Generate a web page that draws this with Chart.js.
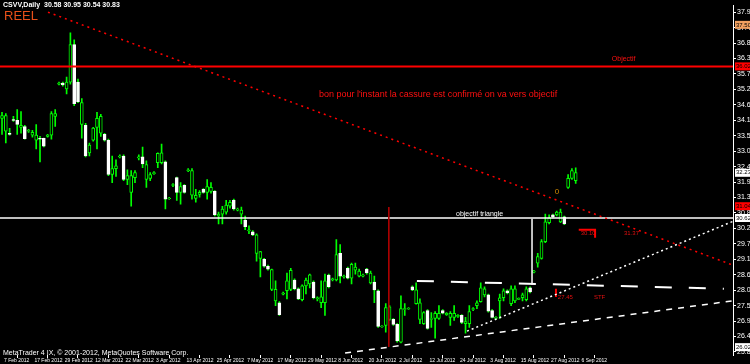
<!DOCTYPE html>
<html>
<head>
<meta charset="utf-8">
<script src="https://cdn.jsdelivr.net/npm/chart.js@4.4.0/dist/chart.umd.min.js"></script>
<style>
  html, body { margin: 0; padding: 0; background: #000; }
  canvas { display: block; }
</style>
</head>
<body>
<canvas id="chart" width="750" height="364"></canvas>
<script>
// daily OHLC, one entry per bar (bar index = position in the array)
const opens = [34.17,33.71,33.64,34.13,34.10,33.85,33.88,33.71,33.57,33.39,33.46,33.46,33.53,33.57,34.24,35.39,35.43,35.22,35.46,36.80,
  35.46,33.95,33.92,32.94,33.39,33.85,33.64,33.60,33.39,32.17,32.38,32.80,32.83,31.99,31.53,32.06,32.76,32.80,31.99,32.03,
  32.20,32.59,32.59,32.62,31.31,31.78,32.06,31.53,31.78,32.31,31.43,31.32,31.46,31.64,31.53,31.57,31.57,30.69,30.76,30.83,
  31.04,31.25,30.90,30.76,30.55,30.17,30.13,29.36,29.18,29.15,28.90,28.08,27.67,27.60,27.91,28.03,28.08,28.41,28.10,27.71,
  28.20,28.27,28.34,27.74,27.60,27.60,28.59,28.41,28.41,29.36,28.52,28.83,28.48,28.76,28.55,28.55,28.80,28.31,28.34,28.03,
  26.75,26.79,27.01,27.01,26.83,26.20,27.36,27.38,28.17,27.57,27.01,26.86,27.32,27.01,27.04,27.04,27.32,27.18,27.08,27.08,
  27.11,27.15,26.86,26.86,27.36,27.50,27.64,27.88,27.88,27.32,27.04,27.67,27.78,28.03,27.57,27.67,27.72,27.78,27.71,28.13,
  28.69,29.01,29.18,29.78,30.45,30.73,30.73,30.48,30.66,31.71,32.03,31.95];
const highs = [34.38,34.34,33.81,34.24,34.48,34.41,33.92,33.78,33.74,33.95,33.53,33.47,33.60,34.41,34.48,35.46,35.46,35.64,37.22,36.97,
  35.57,34.87,33.99,33.29,33.85,34.38,34.31,33.64,33.43,32.83,32.69,32.87,32.87,32.34,32.31,32.31,32.87,33.15,32.66,32.24,
  32.27,32.94,33.25,32.66,31.36,31.85,32.08,31.88,31.81,32.38,32.38,31.64,31.60,31.67,31.99,31.88,31.60,30.83,31.04,31.25,
  31.25,31.29,30.97,31.01,30.69,30.34,30.17,30.06,29.43,29.18,28.94,28.80,28.38,27.64,27.98,28.66,28.83,28.45,28.13,28.24,
  28.48,28.62,28.38,27.81,28.38,28.62,28.62,28.48,29.85,29.67,28.59,28.87,29.01,29.01,28.80,28.62,28.83,28.73,28.55,28.06,
  26.79,27.57,27.50,27.04,26.86,27.85,27.57,27.43,28.20,28.31,27.74,27.29,27.36,27.25,27.29,27.50,27.36,27.25,27.29,27.50,
  27.18,27.18,27.08,27.50,27.43,27.67,28.31,28.17,27.91,27.36,27.11,27.91,28.10,28.06,28.20,28.20,27.78,27.95,28.17,28.17,
  28.76,29.36,29.85,30.76,30.73,30.76,30.87,30.94,30.69,32.17,32.38,32.41];
const lows = [33.60,33.29,33.57,34.06,33.60,33.64,33.43,33.67,33.50,33.08,32.62,33.15,33.50,33.43,33.88,35.36,35.32,35.04,35.39,34.62,
  34.73,33.46,32.80,32.83,33.36,33.08,33.53,33.36,32.13,31.88,32.10,32.76,31.95,31.81,31.04,31.88,32.69,32.41,31.71,31.95,
  32.17,32.41,32.55,30.94,31.28,31.74,31.25,31.11,31.50,32.27,31.29,31.18,31.36,31.50,31.29,31.50,30.69,30.41,30.41,30.76,
  30.97,30.90,30.87,30.41,30.20,30.06,29.99,29.08,28.52,28.87,28.76,28.03,27.50,27.15,27.88,27.74,28.03,28.06,27.71,27.67,
  27.92,28.13,27.74,27.67,27.43,27.15,28.13,28.38,28.38,28.31,28.48,28.45,28.27,28.62,28.52,28.52,28.62,28.27,27.60,26.72,
  26.72,26.55,26.97,26.79,26.20,26.17,27.15,27.36,28.03,27.55,26.86,26.83,26.66,26.72,26.34,27.01,27.20,27.15,26.79,26.97,
  27.08,26.86,26.52,26.72,27.32,27.39,27.62,27.81,27.27,27.06,27.01,27.04,27.67,27.92,27.50,27.60,27.71,27.67,27.67,27.95,
  28.66,28.87,29.15,29.74,30.41,30.62,30.69,30.45,30.38,31.67,31.99,31.85];
const closes = [34.27,34.27,33.60,34.10,33.95,33.92,33.45,33.74,33.67,33.57,33.43,33.18,33.57,34.34,34.34,35.43,35.36,35.46,36.80,34.69,
  34.76,34.73,32.83,33.22,33.82,34.17,34.24,33.39,32.17,32.38,32.48,32.83,31.99,32.13,32.13,32.24,32.80,32.55,32.52,32.17,
  32.24,32.92,32.94,31.29,31.33,31.81,31.53,31.74,31.53,32.34,32.31,31.43,31.53,31.53,31.74,31.71,30.73,30.76,30.94,31.08,
  31.18,30.94,30.94,30.90,30.31,30.20,30.02,30.02,29.42,28.90,28.80,28.78,28.08,27.18,27.95,28.38,28.76,28.10,27.74,28.20,
  28.41,28.60,27.78,27.78,27.81,28.38,28.17,28.45,29.32,28.55,28.55,28.48,28.97,28.87,28.73,28.59,28.66,28.66,28.06,26.76,
  26.77,27.43,27.46,26.83,26.24,27.39,27.39,27.40,28.06,28.06,27.60,27.25,26.69,27.04,27.22,27.22,27.23,27.22,27.22,27.22,
  27.15,26.90,26.93,27.29,27.39,27.60,28.13,28.10,27.30,27.08,27.08,27.78,28.03,27.95,28.10,28.10,27.76,27.88,28.10,27.99,
  28.73,29.25,29.78,30.48,30.62,30.66,30.83,30.83,30.41,32.03,32.31,32.24];

// axis ticks
const priceTicks = [37.95,37.40,36.85,36.30,35.75,35.20,34.65,34.10,33.55,33.00,32.45,31.90,31.35,30.80,30.25,29.70,29.15,28.60,28.05,27.50,26.95,26.40,25.85];
const dateTicks = [0,8,16,24,32,40,48,56,64,72,80,88,96,104,112,120,128,136,144,152];
const dateLabels = ['7 Feb 2012','17 Feb 2012','29 Feb 2012','12 Mar 2012','22 Mar 2012','3 Apr 2012','13 Apr 2012','25 Apr 2012',
  '7 May 2012','17 May 2012','29 May 2012','8 Jun 2012','20 Jun 2012','2 Jul 2012','12 Jul 2012','24 Jul 2012','3 Aug 2012',
  '15 Aug 2012','27 Aug 2012','6 Sep 2012'];

// drawn objects: [bar index, price] pairs
const objectifLevel = 36.02;
const triangleLevel = 30.62;
const resistance = [[12.1, 37.95], [192.4, 28.94]];
const supportUp = [[122.4, 26.59], [192.4, 30.50]];
const supportLow = [[90.3, 25.81], [192.4, 27.67]];
const neckline = [[109.2, 28.38], [190.0, 28.10]];
const breakoutLeg = [[139.5, 30.59], [139.5, 28.24]];
const dayMarker = [[101.8, 31.01], [101.8, 26.03]];
const targetBracket = [[151.8, 30.20], [156.1, 30.20], [156.1, 29.92]];
const stopTick = [[145.8, 28.10], [145.8, 27.81]];

// price boxes on the right scale
const axisBoxes = [[37.50, '#f0a060'], [36.02, '#ff0000'], [32.23, '#ffffff'], [31.04, '#ff0000'], [30.62, '#ffffff'], [26.02, '#ffffff']];

const notes = [
  { text: "bon pour l'instant la cassure est confirmé on va vers objectif", x: 83.4, y: 35.01, color: '#ff1010', size: 9 },
  { text: 'Objectif', x: 160.5, y: 36.27, color: '#ff1010', size: 7 },
  { text: 'objectif triangle', x: 119.5, y: 30.76, color: '#ffffff', size: 7 },
  { text: '0', x: 145.5, y: 31.57, color: '#d08a00', size: 8 },
  { text: '30.10', x: 152.3, y: 30.06, color: '#e01010', size: 6 },
  { text: '31.37', x: 163.7, y: 30.09, color: '#e01010', size: 6 },
  { text: '27.45', x: 146.3, y: 27.78, color: '#e01010', size: 6 },
  { text: 'STF', x: 155.8, y: 27.81, color: '#e01010', size: 6 }
];

const GREEN = '#00ff00';
const pts = arr => arr.map(p => ({ x: p[0], y: p[1] }));
const lineSet = (data, color, width, dash) => ({
  type: 'line', data: pts(data), borderColor: color, borderWidth: width, borderDash: dash || [],
  pointRadius: 0, fill: false, tension: 0, order: 1
});

const bull = opens.map((o, i) => closes[i] >= o);

const overlay = {
  id: 'overlay',
  afterDatasetsDraw(chart) {
    const { ctx, scales: { x, y } } = chart;
    ctx.save();
    ctx.textBaseline = 'middle';
    ctx.textAlign = 'left';
    notes.forEach(n => {
      ctx.font = n.size + 'px "Liberation Sans"';
      ctx.fillStyle = n.color;
      ctx.fillText(n.text, x.getPixelForValue(n.x), y.getPixelForValue(n.y));
    });
    ctx.font = 'bold 7px "Liberation Sans"';
    ctx.fillStyle = '#ffffff';
    ctx.fillText('CSVV,Daily  30.58 30.95 30.54 30.83', 3, 5);
    ctx.font = '7px "Liberation Sans"';
    ctx.fillText('MetaTrader 4 IX, © 2001-2012, MetaQuotes Software Corp.', 3, 353);
    ctx.font = '13px "Liberation Sans"';
    ctx.fillStyle = '#e8501a';
    ctx.fillText('REEL', 4, 16);
    ctx.restore();
  },
  afterDraw(chart) {
    const { ctx, scales: { y } } = chart;
    ctx.save();
    ctx.font = '6px "Liberation Sans"';
    ctx.textBaseline = 'middle';
    axisBoxes.forEach(b => {
      const py = y.getPixelForValue(b[0]);
      ctx.fillStyle = b[1];
      ctx.fillRect(735, py - 4, 15, 8);
      ctx.fillStyle = '#000';
      ctx.fillText(b[0].toFixed(2), 736, py);
    });
    ctx.restore();
  }
};

new Chart(document.getElementById('chart'), {
  type: 'bar',
  data: {
    datasets: [
      lineSet(resistance, '#ff0000', 1.5, [2, 4]),
      lineSet(supportUp, '#ffffff', 1.5, [2, 3]),
      lineSet(supportLow, '#ffffff', 1.5, [6, 6]),
      lineSet(neckline, '#ffffff', 2, [17, 17]),
      lineSet(breakoutLeg, '#ffffff', 1.5),
      lineSet(dayMarker, '#b00000', 1),
      lineSet(targetBracket, '#ff0000', 2),
      lineSet(stopTick, '#ff0000', 2),
      lineSet([[-1, triangleLevel], [193, triangleLevel]], '#ffffff', 1.5),
      lineSet([[-1, objectifLevel], [193, objectifLevel]], '#ff0000', 2),
      {
        label: 'body',
        data: opens.map((o, i) => ({ x: i, y: [o, closes[i]] })),
        backgroundColor: bull.map(b => b ? '#000000' : '#ffffff'),
        borderColor: bull.map(b => b ? GREEN : '#ffffff'),
        borderWidth: 1,
        borderSkipped: false,
        barThickness: 3,
        grouped: false,
        order: 3
      },
      {
        label: 'wick',
        data: lows.map((l, i) => ({ x: i, y: [l, highs[i]] })),
        backgroundColor: GREEN,
        borderWidth: 0,
        barThickness: 1,
        grouped: false,
        order: 4
      }
    ]
  },
  options: {
    responsive: false,
    animation: false,
    layout: { padding: 0 },
    plugins: { legend: { display: false }, tooltip: { enabled: false } },
    scales: {
      x: {
        type: 'linear',
        min: -0.53,
        max: 192.4,
        offset: false,
        grid: { drawOnChartArea: false, drawTicks: true, tickLength: 3, color: '#ffffff' },
        border: { display: false },
        ticks: {
          color: '#ffffff', font: { size: 5, family: 'Liberation Sans' }, align: 'start', labelOffset: 2,
          padding: 0, autoSkip: false, maxRotation: 0,
          callback: v => dateLabels[dateTicks.indexOf(v)]
        },
        afterBuildTicks: s => { s.ticks = dateTicks.map(v => ({ value: v })); },
        afterFit: s => { s.height = 9; }
      },
      y: {
        type: 'linear',
        position: 'right',
        min: 25.74,
        max: 38.20,
        grid: { drawOnChartArea: false, tickLength: 3, color: '#ffffff' },
        border: { display: true, color: '#ffffff', width: 1 },
        ticks: {
          color: '#ffffff', font: { size: 7, family: 'Liberation Sans' }, padding: 1, autoSkip: false,
          callback: v => v.toFixed(2)
        },
        afterBuildTicks: s => { s.ticks = priceTicks.map(v => ({ value: v })); },
        afterFit: s => { s.width = 17; }
      }
    }
  },
  plugins: [overlay]
});
</script>
</body>
</html>
